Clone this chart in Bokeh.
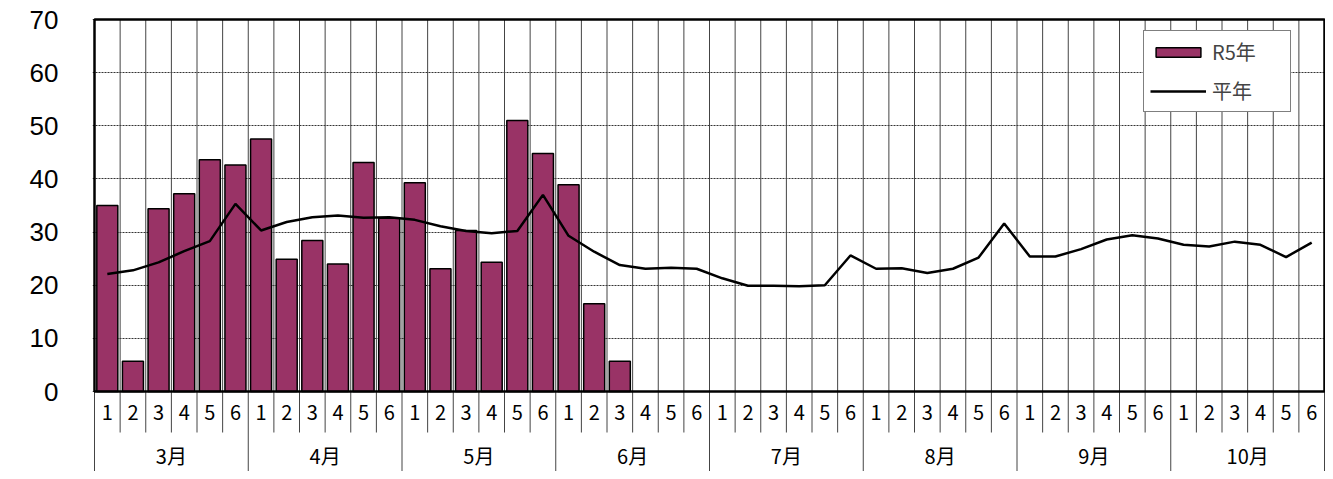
from bokeh.plotting import figure
from bokeh.models import Range1d, FixedTicker, Legend, LegendItem, Label
from bokeh.core.properties import value
from bokeh.embed import file_html
from bokeh.resources import INLINE

# ---- data ----
months = ["3月", "4月", "5月", "6月", "7月", "8月", "9月", "10月"]
weeks = ["1", "2", "3", "4", "5", "6"]
r5_hours = [35.0, 5.7, 34.4, 37.2, 43.6, 42.6,
            47.5, 24.9, 28.4, 24.0, 43.1, 32.6,
            39.3, 23.1, 30.3, 24.3, 51.0, 44.8,
            38.9, 16.5, 5.7]
normal_hours = [22.1, 22.8, 24.3, 26.4, 28.3, 35.3,
                30.3, 31.9, 32.8, 33.1, 32.7, 32.8,
                32.3, 31.1, 30.2, 29.8, 30.2, 37.0,
                29.3, 26.3, 23.8, 23.1, 23.3, 23.1,
                21.3, 19.9, 19.9, 19.8, 20.0, 25.6,
                23.1, 23.2, 22.3, 23.1, 25.2, 31.6,
                25.4, 25.4, 26.8, 28.6, 29.4, 28.8,
                27.6, 27.3, 28.2, 27.6, 25.3, 28.0]
y_ticks = [0, 10, 20, 30, 40, 50, 60, 70]
title_text = "日照時間(hr)"

# ---- layout helpers ----
nw = len(weeks)
n = len(months) * nw
YMAX = y_ticks[-1]
PXY = 372 / YMAX          # pixels per y unit
PXX = 1230 / n            # pixels per category
y_bottom = -80 / PXY

p = figure(width=1325, height=471, output_backend="svg", toolbar_location=None,
           x_range=Range1d(-2 / PXX, n + 1 / PXX),
           y_range=Range1d(y_bottom, YMAX + 2 / PXY),
           min_border_left=92, min_border_right=0, min_border_top=17, min_border_bottom=0)
p.outline_line_color = None
p.background_fill_color = "white"
p.xaxis.visible = False
p.xgrid.visible = False

ax = p.yaxis[0]
ax.ticker = FixedTicker(ticks=y_ticks)
ax.axis_line_color = None
ax.major_tick_line_color = None
ax.minor_tick_line_color = None
ax.major_tick_out = 0
ax.major_label_standoff = 34
ax.major_label_text_font = "Liberation Sans"
ax.major_label_text_font_size = "26px"
ax.major_label_text_color = "black"

g = p.ygrid[0]
g.ticker = FixedTicker(ticks=y_ticks)
g.grid_line_color = "#333333"
g.grid_line_dash = "2 1"
g.grid_line_width = 1

# vertical separators inside plot
inner = list(range(1, n))
p.segment(x0=inner, y0=[0] * len(inner), x1=inner, y1=[YMAX] * len(inner),
          line_color="#444444", line_width=1)
# separators in category axis area
bounds = list(range(0, n + 1))
ends = [y_bottom if k % nw == 0 else -41 / PXY for k in bounds]
p.segment(x0=bounds, y0=[0] * len(bounds), x1=bounds, y1=ends,
          line_color="#444444", line_width=1)

xs_bar = [i + 0.5 for i in range(len(r5_hours))]
bars = p.vbar(x=xs_bar, top=r5_hours, bottom=0, width=0.82,
              fill_color="#993366", line_color="black", line_width=1.5)
xs_line = [i + 0.5 for i in range(n)]
line = p.line(x=xs_line, y=normal_hours, line_color="black", line_width=2.5)

# frame border
p.quad(left=[0], right=[n], bottom=[0], top=[YMAX], fill_color=None,
       line_color="black", line_width=2.5)

# category labels
p.text(x=xs_line, y=[-21 / PXY] * n, text=weeks * len(months),
       text_align="center", text_baseline="middle",
       text_font=value("Noto Sans CJK JP"), text_font_size="20px", text_color="black")
p.text(x=[nw * m + nw / 2 for m in range(len(months))], y=[-64 / PXY] * len(months),
       text=months, text_align="center", text_baseline="middle",
       text_font=value("Noto Sans CJK JP"), text_font_size="20px", text_color="black")

legend = Legend(items=[LegendItem(label="R5年", renderers=[bars]),
                       LegendItem(label="平年", renderers=[line])],
                location=(1051, 359), orientation="vertical",
                label_text_font="Noto Sans CJK JP", label_text_font_size="20px",
                glyph_width=56, glyph_height=12, label_height=26, label_width=72,
                label_standoff=6, spacing=10, padding=6, margin=0,
                border_line_color="black", border_line_width=1,
                background_fill_color="white", background_fill_alpha=1)
p.add_layout(legend)

p.add_layout(Label(x=(697 - 94) / PXX, y=YMAX + 7 / PXY, text=title_text,
                   text_align="center", text_baseline="bottom",
                   text_font="Noto Sans CJK JP", text_font_size="24px",
                   text_font_style="bold", text_color="black"))

open("out.html", "w").write(file_html(p, INLINE))
